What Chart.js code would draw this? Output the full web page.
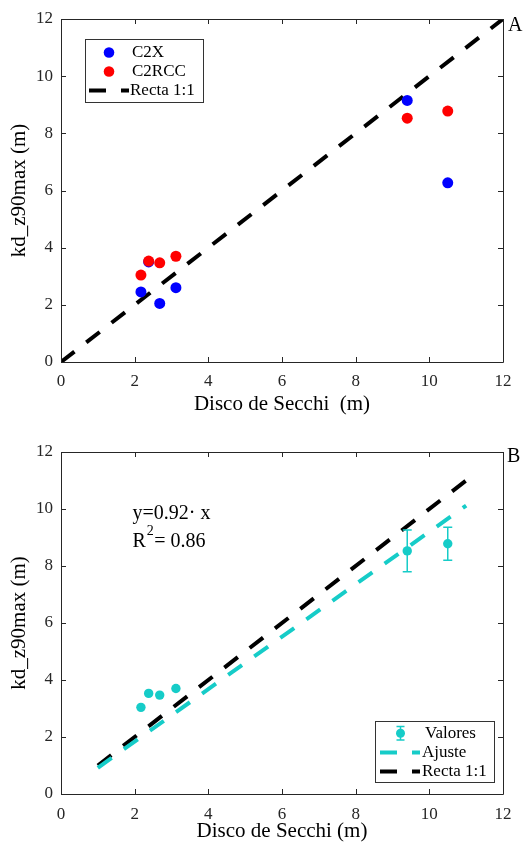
<!DOCTYPE html>
<html>
<head>
<meta charset="utf-8">
<script src="https://cdn.jsdelivr.net/npm/chart.js@4/dist/chart.umd.min.js"></script>
<style>
  html, body { margin: 0; padding: 0; background: #ffffff; }
  canvas { display: block; }
</style>
</head>
<body>
<canvas id="panelA" width="525" height="422"></canvas>
<canvas id="panelB" width="525" height="423"></canvas>
<script>
// Secchi disk depth (m) for each station
const secchi = [2.17, 2.38, 2.68, 3.12, 9.4, 10.5];
// kd-derived z90max (m) from each processor
const c2x = [2.45, 3.5, 2.05, 2.6, 9.15, 6.27];
const c2rcc = [3.04, 3.53, 3.47, 3.7, 8.53, 8.78];
// spread of the C2RCC estimate (m)
const c2rccErr = [0, 0, 0, 0, 0.73, 0.58];
// linear fit through the origin
const fitSlope = 0.92;
const fitR2 = 0.86;
const fitRange = [1, 11];
const unityRangeA = [0, 12];
const unityRangeB = [1, 11];
// axis ticks
const axisTicks = [0, 2, 4, 6, 8, 10, 12];

const SERIF = '"Liberation Serif", "Times New Roman", serif';
const CYAN = 'rgb(22, 204, 200)';
const DASH = [17, 15];
const AXIS = '#262626';

function lineData(range, slope) {
  return range.map(x => ({ x: x, y: slope * x }));
}

// Box frame with inward ticks on all four sides
const framePlugin = {
  id: 'frame',
  afterDraw(chart) {
    const { ctx, chartArea: a, scales } = chart;
    const xs = scales.x, ys = scales.y;
    ctx.save();
    ctx.strokeStyle = AXIS;
    ctx.lineWidth = 1;
    ctx.beginPath();
    ctx.rect(Math.round(a.left) + 0.5, Math.round(a.top) + 0.5,
             Math.round(a.right - a.left), Math.round(a.bottom - a.top));
    ctx.stroke();
    const tl = 5;
    ctx.beginPath();
    axisTicks.forEach(v => {
      const px = Math.round(xs.getPixelForValue(v)) + 0.5;
      ctx.moveTo(px, a.bottom); ctx.lineTo(px, a.bottom - tl);
      ctx.moveTo(px, a.top); ctx.lineTo(px, a.top + tl);
      const py = Math.round(ys.getPixelForValue(v)) + 0.5;
      ctx.moveTo(a.left, py); ctx.lineTo(a.left + tl, py);
      ctx.moveTo(a.right, py); ctx.lineTo(a.right - tl, py);
    });
    ctx.stroke();
    ctx.restore();
  }
};

// Vertical error bars for datasets that carry an `errors` array
const errorBarPlugin = {
  id: 'errorBars',
  afterDatasetsDraw(chart) {
    const { ctx, scales } = chart;
    chart.data.datasets.forEach(ds => {
      if (!ds.errors) return;
      ctx.save();
      ctx.strokeStyle = ds.borderColor;
      ctx.lineWidth = 1.5;
      ds.data.forEach((p, i) => {
        const e = ds.errors[i];
        if (!e) return;
        const x = scales.x.getPixelForValue(p.x);
        const y1 = scales.y.getPixelForValue(p.y + e);
        const y2 = scales.y.getPixelForValue(p.y - e);
        ctx.beginPath();
        ctx.moveTo(x, y1); ctx.lineTo(x, y2);
        ctx.moveTo(x - 4.5, y1); ctx.lineTo(x + 4.5, y1);
        ctx.moveTo(x - 4.5, y2); ctx.lineTo(x + 4.5, y2);
        ctx.stroke();
      });
      ctx.restore();
    });
  }
};

function legendBox(ctx, x, y, w, h) {
  ctx.fillStyle = '#ffffff';
  ctx.fillRect(x, y, w, h);
  ctx.strokeStyle = '#333333';
  ctx.lineWidth = 1;
  ctx.strokeRect(x + 0.5, y + 0.5, w, h);
}
function legendLine(ctx, x1, x2, y, color) {
  ctx.save();
  ctx.strokeStyle = color;
  ctx.lineWidth = 4;
  ctx.setLineDash(DASH);
  ctx.beginPath();
  ctx.moveTo(x1, y); ctx.lineTo(x2, y);
  ctx.stroke();
  ctx.restore();
}
function legendText(ctx, text, x, y) {
  ctx.fillStyle = '#000000';
  ctx.font = '17px ' + SERIF;
  ctx.textAlign = 'left';
  ctx.textBaseline = 'middle';
  ctx.fillText(text, x, y);
}

const legendA = {
  id: 'legendA',
  afterDraw(chart) {
    const ctx = chart.ctx;
    ctx.save();
    legendBox(ctx, 85, 39, 118, 63);
    const names = chart.data.datasets.map(d => d.label);
    ctx.fillStyle = '#0000ff';
    ctx.beginPath(); ctx.arc(109, 52.5, 5.3, 0, Math.PI * 2); ctx.fill();
    legendText(ctx, names[0], 132, 53);
    ctx.fillStyle = '#ff0000';
    ctx.beginPath(); ctx.arc(109, 71.5, 5.3, 0, Math.PI * 2); ctx.fill();
    legendText(ctx, names[1], 132, 72);
    legendLine(ctx, 89, 129, 90.5, '#000000');
    legendText(ctx, names[2], 130, 91);
    // panel letter
    ctx.font = '20px ' + SERIF;
    ctx.textBaseline = 'alphabetic';
    ctx.fillStyle = '#000000';
    ctx.fillText('A', 508, 31);
    ctx.restore();
  }
};

const legendB = {
  id: 'legendB',
  afterDraw(chart) {
    const ctx = chart.ctx;
    const off = 422;
    ctx.save();
    legendBox(ctx, 375, 721 - off, 119, 61);
    const names = chart.data.datasets.map(d => d.label);
    ctx.strokeStyle = CYAN; ctx.lineWidth = 1.5;
    ctx.beginPath();
    ctx.moveTo(400.5, 726.5 - off); ctx.lineTo(400.5, 740 - off);
    ctx.moveTo(396.5, 726.5 - off); ctx.lineTo(404.5, 726.5 - off);
    ctx.moveTo(396.5, 740 - off); ctx.lineTo(404.5, 740 - off);
    ctx.stroke();
    ctx.fillStyle = CYAN;
    ctx.beginPath(); ctx.arc(400.5, 733.3 - off, 4.5, 0, Math.PI * 2); ctx.fill();
    legendText(ctx, names[0], 425, 733.5 - off);
    legendLine(ctx, 380, 420, 752.5 - off, CYAN);
    legendText(ctx, names[1], 422, 753 - off);
    legendLine(ctx, 380, 420, 771.5 - off, '#000000');
    legendText(ctx, names[2], 422, 772 - off);

    // fit annotation
    ctx.fillStyle = '#000000';
    ctx.textBaseline = 'middle';
    ctx.font = '20px ' + SERIF;
    ctx.fillText('y=' + fitSlope.toFixed(2) + '\u00b7 x', 132.5, 513.5 - off);
    ctx.fillText('R', 132.5, 542 - off);
    const rw = ctx.measureText('R').width;
    ctx.font = '14px ' + SERIF;
    ctx.fillText('2', 133.5 + rw, 531 - off);
    const sw = ctx.measureText('2').width;
    ctx.font = '20px ' + SERIF;
    ctx.fillText('= ' + fitR2.toFixed(2), 134 + rw + sw, 542 - off);

    // panel letter
    ctx.font = '20px ' + SERIF;
    ctx.textBaseline = 'alphabetic';
    ctx.fillText('B', 507, 462 - off);
    ctx.restore();
  }
};

function scalesFor(xTitle, xScaleHeight, xTitlePad, xTickPad) {
  const tickFont = { family: SERIF, size: 17 };
  const titleFont = { family: SERIF, size: 21 };
  return {
    x: {
      type: 'linear', min: 0, max: 12,
      afterBuildTicks: s => { s.ticks = axisTicks.map(v => ({ value: v })); },
      afterFit: s => { s.height = xScaleHeight; },
      grid: { display: false, drawTicks: false },
      border: { display: false },
      ticks: { color: '#262626', font: tickFont, padding: xTickPad, maxRotation: 0 },
      title: { display: true, text: xTitle, color: '#000000', font: titleFont,
               padding: { top: 0, bottom: xTitlePad } }
    },
    y: {
      type: 'linear', min: 0, max: 12,
      afterBuildTicks: s => { s.ticks = axisTicks.map(v => ({ value: v })); },
      afterFit: s => { s.width = 61; },
      grid: { display: false, drawTicks: false },
      border: { display: false },
      ticks: { color: '#262626', font: tickFont, padding: 8 },
      title: { display: true, text: 'kd_z90max (m)', color: '#000000', font: titleFont,
               padding: { top: 7, bottom: 0 } }
    }
  };
}

const common = {
  responsive: false,
  animation: false,
  devicePixelRatio: 1,
  plugins: { legend: { display: false }, tooltip: { enabled: false } }
};

new Chart(document.getElementById('panelA'), {
  type: 'scatter',
  data: {
    datasets: [
      { label: 'C2X', order: 2,
        data: secchi.map((x, i) => ({ x: x, y: c2x[i] })),
        backgroundColor: '#0000ff', borderColor: '#0000ff', borderWidth: 0, pointRadius: 5.5 },
      { label: 'C2RCC', order: 1,
        data: secchi.map((x, i) => ({ x: x, y: c2rcc[i] })),
        backgroundColor: '#ff0000', borderColor: '#ff0000', borderWidth: 0, pointRadius: 5.5 },
      { label: 'Recta 1:1', type: 'line', order: 3,
        data: lineData(unityRangeA, 1),
        borderColor: '#000000', borderWidth: 4, borderDash: DASH, borderCapStyle: 'butt',
        pointRadius: 0, fill: false, tension: 0 }
    ]
  },
  options: Object.assign({}, common, {
    layout: { padding: { left: 0, right: 22, top: 19, bottom: 0 } },
    scales: scalesFor('Disco de Secchi  (m)', 60, 5, 9)
  }),
  plugins: [framePlugin, legendA]
});

new Chart(document.getElementById('panelB'), {
  type: 'scatter',
  data: {
    datasets: [
      { label: 'Valores', order: 1,
        data: secchi.map((x, i) => ({ x: x, y: c2rcc[i] })),
        errors: c2rccErr,
        backgroundColor: CYAN, borderColor: CYAN, borderWidth: 0, pointRadius: 4.7 },
      { label: 'Ajuste', type: 'line', order: 2,
        data: lineData(fitRange, fitSlope),
        borderColor: CYAN, borderWidth: 4, borderDash: DASH, borderCapStyle: 'butt',
        pointRadius: 0, fill: false, tension: 0 },
      { label: 'Recta 1:1', type: 'line', order: 3,
        data: lineData(unityRangeB, 1),
        borderColor: '#000000', borderWidth: 4, borderDash: DASH, borderCapStyle: 'butt',
        pointRadius: 0, fill: false, tension: 0 }
    ]
  },
  options: Object.assign({}, common, {
    layout: { padding: { left: 0, right: 22, top: 30, bottom: 0 } },
    scales: scalesFor('Disco de Secchi (m)', 51, 1, 10)
  }),
  plugins: [framePlugin, errorBarPlugin, legendB]
});
</script>
</body>
</html>
